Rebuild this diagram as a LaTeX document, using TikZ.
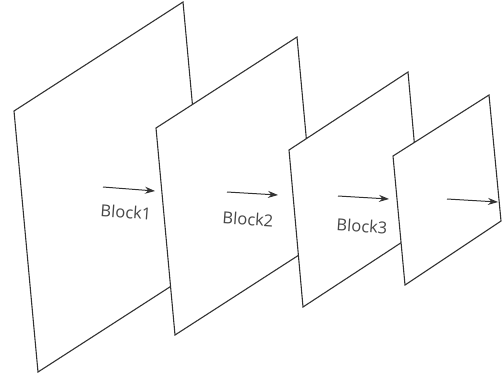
\documentclass[tikz,border=0pt]{standalone}
\usepackage{fontspec}
\setsansfont[Numbers=Lining]{Open Sans}
\usetikzlibrary{arrows.meta}
\definecolor{ink}{HTML}{333333}
\tikzset{
  panel/.style={draw=ink, line width=1.1pt, fill=white, line join=miter},
  flow/.style={draw=ink, line width=1pt, -{Stealth[length=10pt,width=7pt]}},
  lbl/.style={text=ink!90, font=\sffamily\fontsize{16.5}{16.5}\selectfont, inner sep=0pt, rotate=-4}
}
\begin{document}
\begin{tikzpicture}[x=1pt,y=-1pt]
\useasboundingbox (0,0) rectangle (502,376);
% first panel
\draw[panel] (14,111) -- (183,2) -- (207,263) -- (38,372) -- cycle;
\coordinate (a1s) at (103,187); \coordinate (a1e) at (155,191);
\draw[flow] (a1s) -- (a1e);
\node[lbl] (b1) at (126,212) {Block1};
% second panel
\draw[panel] (156,128) -- (297,37) -- (316,244) -- (175,335) -- cycle;
\coordinate (a2s) at (227,192); \coordinate (a2e) at (278,195);
\draw[flow] (a2s) -- (a2e);
\node[lbl] (b2) at (248,219) {Block2};
% third panel
\draw[panel] (289,150) -- (408,72) -- (422,229) -- (303,307) -- cycle;
\coordinate (a3s) at (338,196); \coordinate (a3e) at (389,199);
\draw[flow] (a3s) -- (a3e);
\node[lbl] (b3) at (362,226) {Block3};
% fourth panel
\draw[panel] (393,156) -- (489,95) -- (501,221) -- (405,285) -- cycle;
\coordinate (a4s) at (447,199); \coordinate (a4e) at (498,202);
\draw[flow] (a4s) -- (a4e);
\end{tikzpicture}
\end{document}
